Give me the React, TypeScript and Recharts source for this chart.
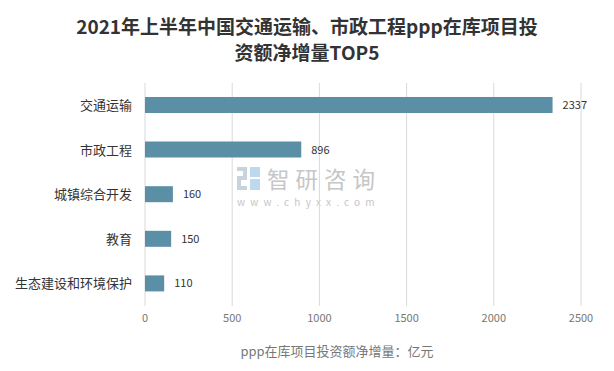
import { BarChart, Bar, XAxis, YAxis, CartesianGrid, LabelList } from 'recharts';

const categories = ['交通运输', '市政工程', '城镇综合开发', '教育', '生态建设和环境保护'];
const values = [2337, 896, 160, 150, 110];
const xTicks = [0, 500, 1000, 1500, 2000, 2500];

const data = categories.map((name, i) => ({ name, value: values[i] }));

const font = '"Noto Sans CJK SC", "Noto Sans", sans-serif';

export default function App() {
  return (
    <div style={{ position:'relative', margin:'-8px', width:614, height:371, background:'white', fontFamily:font, overflow:'hidden' }}>
      <div style={{ position:'absolute', left:4, top:0, width:604, height:367, border:'1px solid #a6a6a6' }} />
      <div style={{ position:'absolute', left:0, top:13, width:614, textAlign:'center',
        fontSize:19, fontWeight:'bold', color:'#333', lineHeight:'26px' }}>
        2021年上半年中国交通运输、市政工程ppp在库项目投<br />资额净增量TOP5
      </div>
      {/* watermark */}
      <svg style={{ position:'absolute', left:237, top:167 }} width={24} height={24}>
        <rect x={0} y={0} width={10} height={4} fill='#c9d3de' />
        <rect x={6} y={0} width={4} height={12} fill='#c9d3de' />
        <rect x={0} y={9} width={10} height={4} fill='#c9d3de' />
        <rect x={0} y={9} width={4} height={14} fill='#c9d3de' />
        <rect x={0} y={19} width={10} height={4} fill='#c9d3de' />
        <rect x={13} y={0} width={10} height={10} fill='#bcd9ee' />
        <rect x={13} y={12} width={10} height={11} fill='#bcd9ee' />
      </svg>
      <div style={{ position:'absolute', left:267, top:167, color:'#c6c6c6', fontSize:22.5, letterSpacing:6, lineHeight:'22px' }}>
        智研咨询
      </div>
      <div style={{ position:'absolute', left:237, top:197, color:'#c6c6c6', fontSize:10, letterSpacing:5.2, lineHeight:'10px' }}>
        www.chyxx.com
      </div>
      <div style={{ position:'absolute', left:0, top:0 }}>
        <BarChart width={614} height={371} data={data} layout='vertical'
          margin={{ top:83, right:33, bottom:35, left:0 }} barSize={16}>
          <CartesianGrid horizontal={false} stroke='#d9d9d9' />
          <XAxis type='number' domain={[0, 2500]} ticks={xTicks} axisLine={false} tickLine={false}
            height={30} tick={{ fill:'#777', fontSize:11 }} interval={0} />
          <YAxis type='category' dataKey='name' width={145} axisLine={false} tickLine={false}
            tickMargin={7} tick={{ fill:'#333', fontSize:13 }} />
          <Bar dataKey='value' fill='#5b8fa6' isAnimationActive={false}>
            <LabelList dataKey='value' position='right' offset={10} fill='#333' fontSize={11} />
          </Bar>
        </BarChart>
      </div>
      <div style={{ position:'absolute', left:0, width:674, top:341, textAlign:'center', fontSize:13, color:'#777' }}>
        ppp在库项目投资额净增量：亿元
      </div>
    </div>
  );
}
